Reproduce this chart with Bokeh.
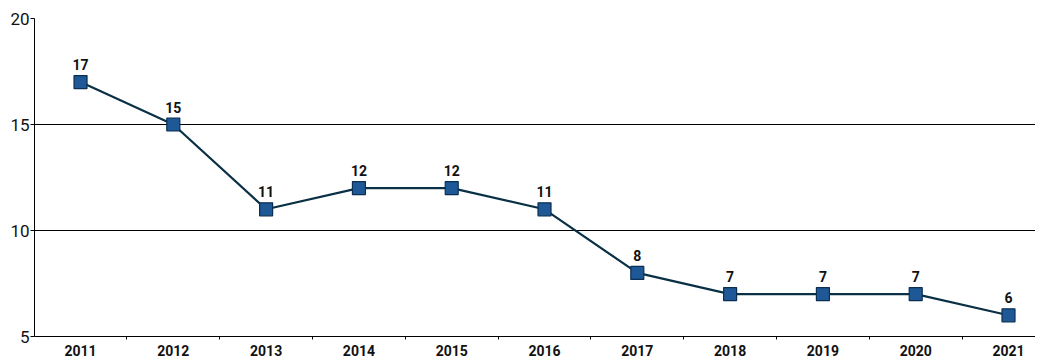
from bokeh.plotting import figure
from bokeh.models import FixedTicker, ColumnDataSource, Range1d, LabelSet
from bokeh.core.properties import value
from bokeh.embed import file_html
from bokeh.resources import INLINE

years = [2011, 2012, 2013, 2014, 2015, 2016, 2017, 2018, 2019, 2020, 2021]
values = [17, 15, 11, 12, 12, 11, 8, 7, 7, 7, 6]
y_ticks = [5, 10, 15, 20]

FONT = "Roboto"

src = ColumnDataSource(dict(x=years, y=values, lab=[str(v) for v in values]))

p = figure(width=1035, frame_height=318, output_backend="svg", toolbar_location=None,
           x_range=Range1d(2010.504, 2021.291), y_range=Range1d(5, 20),
           min_border_left=34, min_border_right=0, min_border_top=18, min_border_bottom=0)
p.outline_line_color = None
p.background_fill_color = "white"

p.xgrid.grid_line_color = None
p.ygrid.grid_line_color = "black"
p.ygrid.grid_line_width = 1
p.ygrid.ticker = FixedTicker(ticks=[10, 15, 20])

mid = [(a + b) / 2 for a, b in zip(years[:-1], years[1:])] + [years[-1] + 0.5]
p.xaxis.ticker = FixedTicker(ticks=years, minor_ticks=mid)
p.xaxis.major_tick_line_color = None
p.xaxis.minor_tick_line_color = "black"
p.xaxis.minor_tick_out = 3
p.xaxis.minor_tick_in = 0
p.xaxis.axis_line_color = "black"
p.xaxis.major_label_text_font = FONT
p.xaxis.major_label_text_font_style = "bold"
p.xaxis.major_label_text_font_size = "14px"
p.xaxis.major_label_text_color = "#111111"
p.xaxis.major_label_standoff = 2

p.yaxis.ticker = FixedTicker(ticks=y_ticks)
p.yaxis.major_tick_out = 4
p.yaxis.major_tick_in = 0
p.yaxis.minor_tick_line_color = None
p.yaxis.axis_line_color = "black"
p.yaxis.major_label_text_font = FONT
p.yaxis.major_label_text_font_size = "17px"
p.yaxis.major_label_text_color = "#111111"
p.yaxis.major_label_standoff = 1

p.line("x", "y", source=src, line_color="#0a3045", line_width=2.2)
p.scatter("x", "y", source=src, marker="square", size=13,
          fill_color="#1e5896", line_color="#0b2f52", line_width=1.2)

labels = LabelSet(x="x", y="y", text="lab", source=src, x_offset=0, y_offset=12,
                  text_align="center", text_baseline="bottom",
                  text_font=value(FONT), text_font_style="bold", text_font_size="14px",
                  text_color="#111111")
p.add_layout(labels)

open("out.html", "w").write(file_html(p, INLINE))
